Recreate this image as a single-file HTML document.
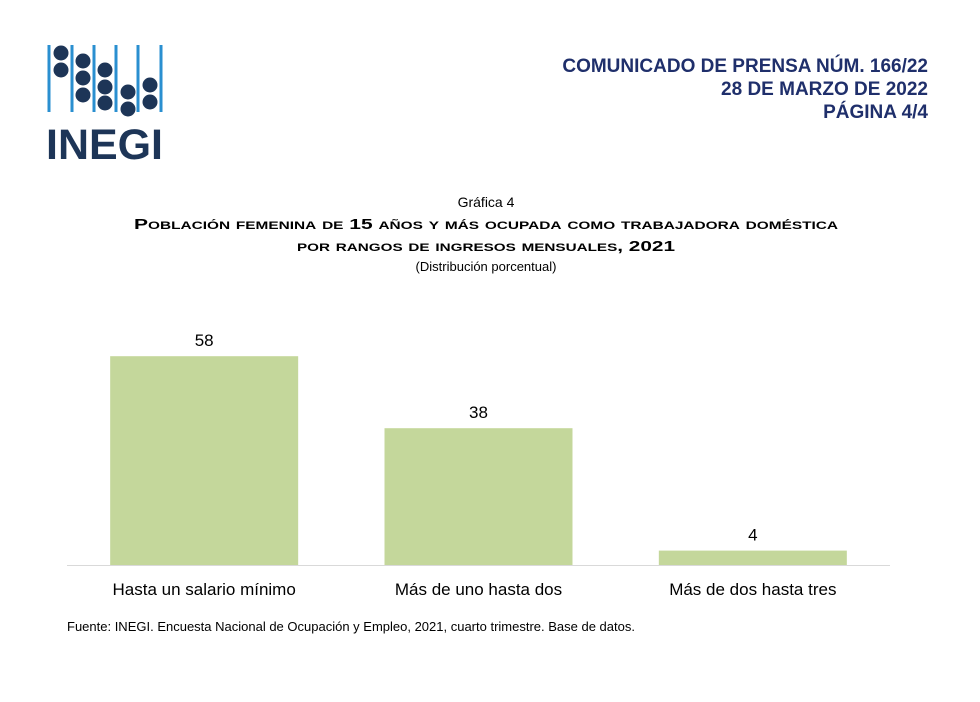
<!DOCTYPE html>
<html><head><meta charset="utf-8"><style>body{margin:0;background:#fff}svg{display:block}text{font-family:"Liberation Sans",sans-serif}</style></head>
<body>
<svg width="980" height="702" viewBox="0 0 980 702">
<g>
<g stroke="#2a8fd0" stroke-width="3">
<line x1="49" y1="45" x2="49" y2="112"/><line x1="72" y1="45" x2="72" y2="112"/><line x1="94" y1="45" x2="94" y2="112"/><line x1="116" y1="45" x2="116" y2="112"/><line x1="138" y1="45" x2="138" y2="112"/><line x1="161" y1="45" x2="161" y2="112"/>
</g>
<g fill="#1d3557">
<circle cx="61" cy="53" r="7.5"/><circle cx="61" cy="70" r="7.5"/>
<circle cx="83" cy="61" r="7.5"/><circle cx="83" cy="78" r="7.5"/><circle cx="83" cy="95" r="7.5"/>
<circle cx="105" cy="70" r="7.5"/><circle cx="105" cy="87" r="7.5"/><circle cx="105" cy="103" r="7.5"/>
<circle cx="128" cy="92" r="7.5"/><circle cx="128" cy="109" r="7.5"/>
<circle cx="150" cy="85" r="7.5"/><circle cx="150" cy="102" r="7.5"/>
</g>
<text x="46" y="159" font-size="43" font-weight="bold" fill="#1d3557" textLength="117" lengthAdjust="spacingAndGlyphs">INEGI</text>
</g>
<g fill="#1f2f6b" font-weight="bold" font-size="19" text-anchor="end">
<text x="928" y="72">COMUNICADO DE PRENSA NÚM. 166/22</text>
<text x="928" y="95">28 DE MARZO DE 2022</text>
<text x="928" y="118">PÁGINA 4/4</text>
</g>
<g text-anchor="middle" fill="#000">
<text x="486" y="207" font-size="14">Gráfica 4</text>
<text x="486" y="229" font-size="15" font-weight="bold" font-variant="small-caps" textLength="704" lengthAdjust="spacingAndGlyphs">Población femenina de 15 años y más ocupada como trabajadora doméstica</text>
<text x="486" y="251" font-size="15" font-weight="bold" font-variant="small-caps" textLength="378" lengthAdjust="spacingAndGlyphs">por rangos de ingresos mensuales, 2021</text>
<text x="486" y="271" font-size="13">(Distribución porcentual)</text>
</g>
<g id="chart"></g>
<text x="67" y="631" font-size="13" fill="#000">Fuente: INEGI. Encuesta Nacional de Ocupación y Empleo, 2021, cuarto trimestre. Base de datos.</text>
</svg>
<script>
const categories = ["Hasta un salario mínimo", "Más de uno hasta dos", "Más de dos hasta tres"];
const values = [58, 38, 4];
const NS = "http://www.w3.org/2000/svg";
const g = document.getElementById("chart");
const x0 = 67, x1 = 890, baseY = 565, pxPerUnit = 3.6;
const band = (x1 - x0) / categories.length, barW = 188;
const y = v => baseY - v * pxPerUnit;
const bx = i => x0 + band * i + (band - barW) / 2;
function mk(tag, attrs, txt){const e=document.createElementNS(NS,tag);for(const k in attrs)e.setAttribute(k,attrs[k]);if(txt!=null)e.textContent=txt;g.appendChild(e);return e;}
categories.forEach((c, i) => {
  const r = mk("rect", {x: bx(i), y: y(values[i]), width: barW, height: baseY - y(values[i]), fill: "#c4d79b"});
  
  
  const t = mk("text", {x: bx(i) + barW / 2, y: y(values[i]) - 10, "text-anchor": "middle", "font-size": "17"}, values[i]);
  
  
  const l = mk("text", {x: bx(i) + barW / 2, y: 595, "text-anchor": "middle", "font-size": "17"}, c);
  
  
});
const ax = mk("line", {x1: x0, x2: x1, y1: baseY + 0.5, y2: baseY + 0.5, stroke: "#d9d9d9", "stroke-width": 1});


</script>
</body></html>
